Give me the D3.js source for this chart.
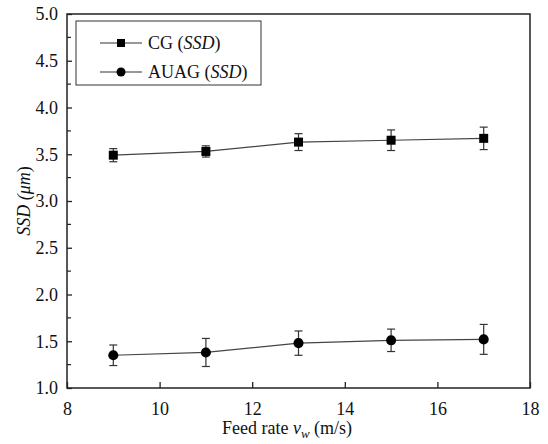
<!DOCTYPE html>
<html>
<head>
<meta charset="utf-8">
<script src="https://cdn.jsdelivr.net/npm/d3@7"></script>
<style>
  body { margin: 0; background: #fff; }
</style>
</head>
<body>
<div id="chart"></div>
<script>
const W = 548;
const H = 444;
const FONT = "'Liberation Serif', 'Times New Roman', Times, serif";

// data
const feedRate = [9, 11, 13, 15, 17];
const cgSSD = [3.49, 3.53, 3.63, 3.65, 3.67];
const cgErr = [0.07, 0.06, 0.09, 0.11, 0.12];
const auagSSD = [1.35, 1.38, 1.48, 1.51, 1.52];
const auagErr = [0.11, 0.15, 0.13, 0.12, 0.16];
const xTicks = [8, 10, 12, 14, 16, 18];
const yTicks = [1.0, 1.5, 2.0, 2.5, 3.0, 3.5, 4.0, 4.5, 5.0];
const yMinor = [1.25, 1.75, 2.25, 2.75, 3.25, 3.75, 4.25, 4.75];

const m = { left: 67, right: 18, top: 14, bottom: 56 };

const svg = d3.select('#chart').append('svg').attr('width', W).attr('height', H)
    .attr('font-family', FONT);

const x = d3.scaleLinear().domain([8, 18]).range([m.left, W - m.right]);
const y = d3.scaleLinear().domain([1, 5]).range([H - m.bottom, m.top]);

// plot frame
svg.append('rect')
    .attr('x', x(8)).attr('y', y(5))
    .attr('width', x(18) - x(8)).attr('height', y(1) - y(5))
    .attr('fill', 'none').attr('stroke', '#222').attr('stroke-width', 1.5);

// x axis (ticks point inward)
const xAxis = d3.axisBottom(x).tickValues(xTicks).tickSize(-6).tickPadding(14).tickFormat(d3.format('d'));
const gx = svg.append('g').attr('transform', `translate(0,${y(1)})`).call(xAxis)
    .attr('font-family', FONT).attr('font-size', 18);
gx.select('.domain').remove();
gx.selectAll('.tick line').attr('stroke', '#222').attr('stroke-width', 1.3);
gx.selectAll('.tick text').attr('fill', '#111');

// y axis
const yAxis = d3.axisLeft(y).tickValues(yTicks).tickSize(-5).tickPadding(9).tickFormat(d3.format('.1f'));
const gy = svg.append('g').attr('transform', `translate(${x(8)},0)`).call(yAxis)
    .attr('font-family', FONT).attr('font-size', 18);
gy.select('.domain').remove();
gy.selectAll('.tick line').attr('stroke', '#222').attr('stroke-width', 1.3);
gy.selectAll('.tick text').attr('fill', '#111');

svg.append('g').selectAll('line').data(yMinor).join('line')
    .attr('x1', x(8)).attr('x2', x(8) + 4)
    .attr('y1', d => y(d)).attr('y2', d => y(d))
    .attr('stroke', '#222').attr('stroke-width', 1.2);

// axis titles
const xt = svg.append('text').attr('x', 287).attr('y', 434)
    .attr('text-anchor', 'middle').attr('font-size', 18).attr('fill', '#111');
xt.append('tspan').text('Feed rate ');
xt.append('tspan').attr('font-style', 'italic').text('v');
xt.append('tspan').attr('font-style', 'italic').attr('font-size', 13).attr('dy', 4).text('w');
xt.append('tspan').attr('dy', -4).text(' (m/s)');

const yt = svg.append('text')
    .attr('transform', `translate(30,${(y(1) + y(5)) / 2}) rotate(-90)`)
    .attr('text-anchor', 'middle').attr('font-size', 18).attr('font-style', 'italic').attr('fill', '#111');
yt.append('tspan').text('SSD (');
yt.append('tspan').text('μm');
yt.append('tspan').attr('font-style', 'normal').text(')');

const series = [
    { name: 'CG', vals: cgSSD, err: cgErr, shape: 'square' },
    { name: 'AUAG', vals: auagSSD, err: auagErr, shape: 'circle' }
];

const line = d3.line().x(d => x(d[0])).y(d => y(d[1]));

series.forEach(s => {
    const pts = feedRate.map((f, i) => [f, s.vals[i], s.err[i]]);
    const g = svg.append('g');
    g.append('path').datum(pts).attr('d', line)
        .attr('fill', 'none').attr('stroke', '#444').attr('stroke-width', 1.2);
    // error bars
    const eb = g.selectAll('.eb').data(pts).join('g');
    eb.append('line')
        .attr('x1', d => x(d[0])).attr('x2', d => x(d[0]))
        .attr('y1', d => y(d[1] + d[2])).attr('y2', d => y(d[1] - d[2]))
        .attr('stroke', '#333').attr('stroke-width', 1.2);
    [1, -1].forEach(sg => {
        eb.append('line')
            .attr('x1', d => x(d[0]) - 4).attr('x2', d => x(d[0]) + 4)
            .attr('y1', d => y(d[1] + sg * d[2])).attr('y2', d => y(d[1] + sg * d[2]))
            .attr('stroke', '#333').attr('stroke-width', 1.2);
    });
    const sym = d3.symbol().type(s.shape === 'square' ? d3.symbolSquare : d3.symbolCircle)
        .size(s.shape === 'square' ? 81 : 80);
    g.selectAll('.mk').data(pts).join('path')
        .attr('transform', d => `translate(${x(d[0])},${y(d[1])})`)
        .attr('d', sym).attr('fill', '#000');
});

// legend
const lg = svg.append('g');
lg.append('rect').attr('x', 76).attr('y', 21).attr('width', 185).attr('height', 64)
    .attr('fill', '#fff').attr('stroke', '#333').attr('stroke-width', 1);
series.forEach((s, i) => {
    const ly = 43 + i * 29;
    lg.append('line').attr('x1', 100).attr('x2', 142).attr('y1', ly).attr('y2', ly)
        .attr('stroke', '#333').attr('stroke-width', 1.2);
    const sym = d3.symbol().type(s.shape === 'square' ? d3.symbolSquare : d3.symbolCircle)
        .size(64);
    lg.append('path').attr('transform', `translate(121,${ly})`).attr('d', sym).attr('fill', '#000');
    const t = lg.append('text').attr('x', 148).attr('y', ly).attr('dy', '0.35em')
        .attr('font-size', 18).attr('fill', '#111');
    t.append('tspan').text(s.name + ' (');
    t.append('tspan').attr('font-style', 'italic').text('SSD');
    t.append('tspan').text(')');
});
</script>
</body>
</html>
